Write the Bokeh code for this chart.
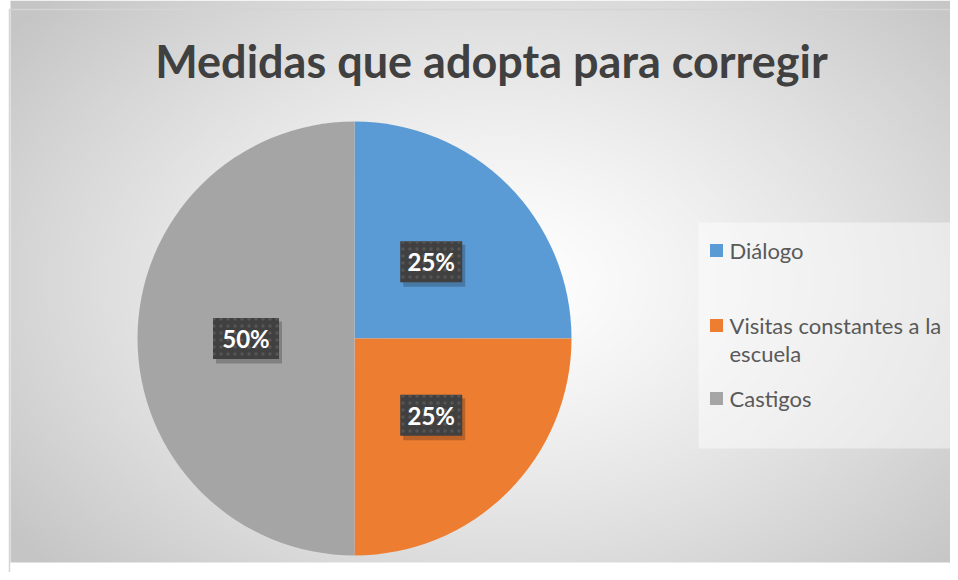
import numpy as np
from bokeh.plotting import figure
from bokeh.models import Range1d
from bokeh.core.properties import value
from bokeh.embed import file_html
from bokeh.resources import INLINE

# ---- data ----
title = "Medidas que adopta para corregir"
categories = ["Diálogo", "Visitas constantes a la\nescuela", "Castigos"]
values = [25, 25, 50]
colors = ["#5B9BD5", "#ED7D31", "#A5A5A5"]

W, H = 950, 572
p = figure(width=W, height=H, output_backend="svg", toolbar_location=None,
           x_range=Range1d(0, W), y_range=Range1d(0, H), min_border=0)
p.axis.visible = False
p.grid.visible = False
p.outline_line_color = None
p.background_fill_color = "#FFFFFF"
p.border_fill_color = "#FFFFFF"


def sy(y):
    return H - y


# radial gradient background (chart area starts at x=9, y=9)
nx, ny = W // 2, H // 2
xs = np.linspace(0, W, nx)
ys = np.linspace(H, 0, ny)
X, Y = np.meshgrid(xs, ys)
cx, cy = 500, 290
t = np.sqrt(((X - cx) / 620.0) ** 2 + ((Y - cy) / 420.0) ** 2)
t = np.clip(t, 0, 1)
g = (255 - 58 * t ** 1.3)
g = np.where((X < 9) | (Y < 9), 255, g).astype(np.uint32)
g = g[::-1]
img = (255 << 24) | (g << 16) | (g << 8) | g
p.image_rgba(image=[img.astype(np.uint32)], x=0, y=0, dw=W, dh=H)
# thin frame border
p.line(x=[9, 9, W], y=[0, sy(9), sy(9)], line_color="#D4D4D4", line_width=1.5)

# pie
pcx, pcy, R = 354, sy(338), 217
vals = np.array(values, dtype=float)
frac = vals / vals.sum()
ends = np.pi / 2 - 2 * np.pi * np.cumsum(frac)
starts = np.concatenate([[np.pi / 2], ends[:-1]])
p.wedge(x=pcx, y=pcy, radius=R, start_angle=ends, end_angle=starts,
        fill_color=colors, line_color=None)

# data labels
mids = (starts + ends) / 2
lx = pcx + 0.5 * R * np.cos(mids)
ly = pcy + 0.5 * R * np.sin(mids)
labels = [f"{v / vals.sum() * 100:.0f}%" for v in vals]
bw = [62, 62, 66]
p.rect(x=lx + 3, y=ly - 4, width=bw, height=42, fill_color="#000000",
       fill_alpha=0.22, line_color=None)
p.rect(x=lx, y=ly, width=bw, height=41, fill_color="#404040",
       line_color=None, hatch_pattern="dot", hatch_color="#555555",
       hatch_scale=7, hatch_weight=1.5)
p.text(x=lx, y=ly, text=labels, text_color="white", text_font=value("Lato"),
       text_font_style="bold", text_font_size="24px", text_align="center",
       text_baseline="middle")

# title
p.text(x=[491], y=[sy(60)], text=[title], text_color="#404040",
       text_font=value("Lato"), text_font_style="bold", text_font_size="45px",
       text_align="center", text_baseline="middle")

# legend
p.rect(x=[828], y=[sy(335)], width=260, height=226, fill_color="white",
       fill_alpha=0.45, line_color=None)
leg_y = [250, 325, 398]
p.rect(x=[716] * 3, y=[sy(v) for v in leg_y], width=13, height=13,
       fill_color=colors, line_color=None)
p.text(x=[729] * 3, y=[sy(v - 14) for v in leg_y], text=categories,
       text_color="#595959", text_font=value("Lato"), text_font_size="22px",
       text_align="left", text_baseline="top", text_line_height=1.05)

open("out.html", "w").write(file_html(p, INLINE))
